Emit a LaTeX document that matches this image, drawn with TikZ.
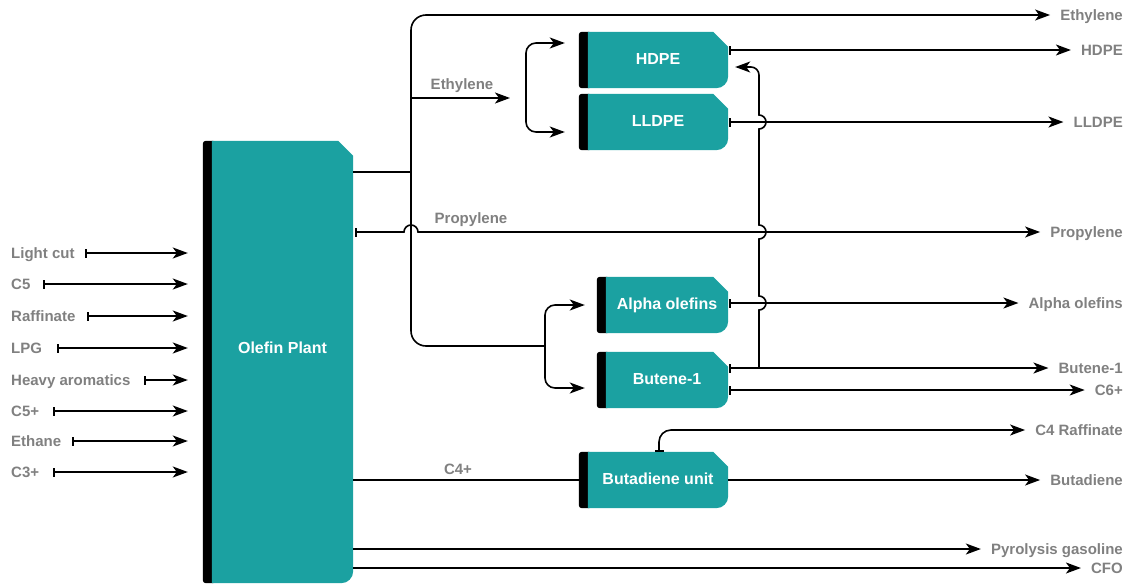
\documentclass[tikz,border=0pt]{standalone}
\usepackage{fontspec}
\setmainfont{Liberation Sans}
\usetikzlibrary{arrows.meta,calc,backgrounds}
\definecolor{unitteal}{RGB}{27,161,161}
\definecolor{lblgray}{RGB}{128,128,128}
\tikzset{
  mytip/.tip={Stealth[length=15pt,width=11pt,inset=4pt]},
  mybar/.tip={Bar[width=9pt]},
  conn/.style={line width=1.6pt, draw=black},
  arr/.style={conn, -{mytip}},
  bararr/.style={conn, {mybar}-{mytip}},
  unit/.style={inner sep=0pt, minimum height=56pt, text=white, text height=11.5pt, text depth=3pt,
    font=\fontsize{16}{19}\selectfont\bfseries},
  lbl/.style={inner sep=0pt, text=lblgray, text height=10.8pt, text depth=0pt,
    font=\fontsize{15}{18}\selectfont\bfseries},
  rlbl/.style={lbl, anchor=east},
  llbl/.style={lbl, anchor=west},
}
\newcommand\unitbody[1]{%
  \fill[black, rounded corners=3pt] ($(#1.north west)+(-9,0)$) rectangle ($(#1.south west)+(4,0)$);
  \fill[unitteal] (#1.north west) -- ($(#1.north east)+(-15,0)$) -- ($(#1.north east)+(0,15)$)
    -- ($(#1.south east)+(0,-12)$) arc[start angle=0,end angle=-90,radius=12pt] -- (#1.south west) -- cycle;
}
\begin{document}
\begin{tikzpicture}[x=1pt,y=-1pt]
\useasboundingbox (0,0) rectangle (1130,584);

% units
\node[unit, minimum width=141pt, minimum height=442pt, text depth=28pt] (plant) at (282.5,362) {Olefin Plant};
\node[unit, minimum width=140pt] (hdpe) at (658,60) {HDPE};
\node[unit, minimum width=140pt] (lldpe) at (658,122) {LLDPE};
\node[unit, minimum width=122pt] (alpha) at (667,305) {Alpha olefins};
\node[unit, minimum width=122pt] (butene) at (667,380) {Butene-1};
\node[unit, minimum width=140pt] (bd) at (658,480) {Butadiene unit};
\begin{scope}[on background layer]
  \unitbody{plant}
  \unitbody{hdpe}
  \unitbody{lldpe}
  \unitbody{alpha}
  \unitbody{butene}
  \unitbody{bd}
\end{scope}

% input labels
\node[llbl] (iLight) at (11,253) {Light cut};
\node[llbl] (iC5) at (11,284) {C5};
\node[llbl] (iRaf) at (11,316) {Raffinate};
\node[llbl] (iLPG) at (11,348) {LPG};
\node[llbl] (iHeavy) at (11,380) {Heavy aromatics};
\node[llbl] (iC5p) at (11,411) {C5+};
\node[llbl] (iEth) at (11,441) {Ethane};
\node[llbl] (iC3p) at (11,472) {C3+};
\coordinate (s1) at (85,253);
\coordinate (s2) at (43,284);
\coordinate (s3) at (87,316);
\coordinate (s4) at (57,348);
\coordinate (s5) at (144,380);
\coordinate (s6) at (53,411);
\coordinate (s7) at (72,441);
\coordinate (s8) at (53,472);
\foreach \s in {s1,s2,s3,s4,s5,s6,s7,s8}
  \draw[bararr, shorten >=24pt] (\s) -- (\s -| plant.west);

% output labels
\node[rlbl] (lEthTop) at (1123,15) {Ethylene};
\node[rlbl] (lHDPE) at (1123,50) {HDPE};
\node[rlbl] (lLLDPE) at (1123,122) {LLDPE};
\node[rlbl] (lProp) at (1123,232) {Propylene};
\node[rlbl] (lAlpha) at (1123,303) {Alpha olefins};
\node[rlbl] (lBut1) at (1123,368) {Butene-1};
\node[rlbl] (lC6) at (1123,390) {C6+};
\node[rlbl] (lC4R) at (1123,430) {C4 Raffinate};
\node[rlbl] (lBd) at (1123,480) {Butadiene};
\node[rlbl] (lPyr) at (1123,549) {Pyrolysis gasoline};
\node[rlbl] (lCFO) at (1123,568) {CFO};
% mid labels
\node[lbl] (mEth) at (462,84) {Ethylene};
\node[lbl] (mProp) at (471,218) {Propylene};
\node[lbl] (mC4) at (458,469) {C4+};

% ethylene trunk
\coordinate (jE) at (411,172);
\coordinate (jB) at (545,346);
\coordinate (jEb) at (411,98);
\coordinate (brk1) at (526,98);
\draw[conn] (plant.east |- jE) -- (jE);
\draw[arr, rounded corners=15pt, shorten >=10pt] (jB) -- (jB -| jE) -- (jE |- lEthTop) -- (lEthTop.west);
\draw[arr, shorten >=16pt] (jEb) -- (brk1);

% bracket HDPE / LLDPE
\coordinate (a1) at ($(hdpe.west)+(-23,-17)$);
\coordinate (a2) at ($(lldpe.west)+(-23,10)$);
\draw[conn, rounded corners=10pt, {mytip}-{mytip}] (a1) -- (brk1 |- a1) -- (brk1 |- a2) -- (a2);

% bracket alpha / butene
\coordinate (a3) at ($(alpha.west)+(-21,0)$);
\coordinate (a4) at ($(butene.west)+(-21,8)$);
\draw[conn, rounded corners=10pt, {mytip}-{mytip}] (a3) -- (jB |- a3) -- (jB |- a4) -- (a4);

% propylene
\coordinate (jP) at (411,232);
\draw[bararr, shorten >=10pt] ([xshift=2pt]plant.east |- jP) -- ($(jP)+(-7,0)$) arc[start angle=180,end angle=0,radius=7pt] -- (jP -| lProp.west);

% product outputs
\coordinate (o1) at ([xshift=1pt,yshift=10pt]hdpe.east);
\coordinate (o2) at ([xshift=1pt]lldpe.east);
\coordinate (o3) at ([xshift=1pt,yshift=2pt]alpha.east);
\coordinate (o4) at ([xshift=1pt,yshift=12pt]butene.east);
\coordinate (o5) at ([xshift=1pt,yshift=-10pt]butene.east);
\draw[bararr, shorten >=10pt] (o1) -- (o1 -| lHDPE.west);
\draw[bararr, shorten >=10pt] (o2) -- (o2 -| lLLDPE.west);
\draw[bararr, shorten >=10pt] (o3) -- (o3 -| lAlpha.west);
\draw[bararr, shorten >=10pt] (o4) -- (o4 -| lBut1.west);
\draw[bararr, shorten >=10pt] (o5) -- (o5 -| lC6.west);

% recycle to HDPE
\coordinate (vx) at (759,0);
\coordinate (r1) at ([yshift=-7pt]hdpe.east);
\draw[arr, shorten >=7pt] (vx |- o4)
  -- ($(vx |- o3)+(0,7)$) arc[start angle=-90,end angle=90,radius=7pt]
  -- ($(vx |- jP)+(0,7)$) arc[start angle=-90,end angle=90,radius=7pt]
  -- ($(vx |- o2)+(0,7)$) arc[start angle=-90,end angle=90,radius=7pt]
  -- ($(vx |- r1)+(0,8)$) arc[start angle=0,end angle=90,radius=8pt]
  -- (r1);

% butadiene
\draw[conn] (plant.east |- bd.west) -- ([xshift=-9pt]bd.west);
\draw[arr, shorten >=10pt] (bd.east) -- (bd.east -| lBd.west);
\coordinate (c4s) at ([xshift=1pt]bd.north);
\draw[bararr, rounded corners=12pt, shorten >=10pt] (c4s) -- (c4s |- lC4R) -- (lC4R.west);

% pyrolysis gasoline and CFO
\draw[arr, shorten >=10pt] (plant.east |- lPyr) -- (lPyr.west);
\draw[arr, shorten >=10pt] (plant.east |- lCFO) -- (lCFO.west);
\end{tikzpicture}
\end{document}
